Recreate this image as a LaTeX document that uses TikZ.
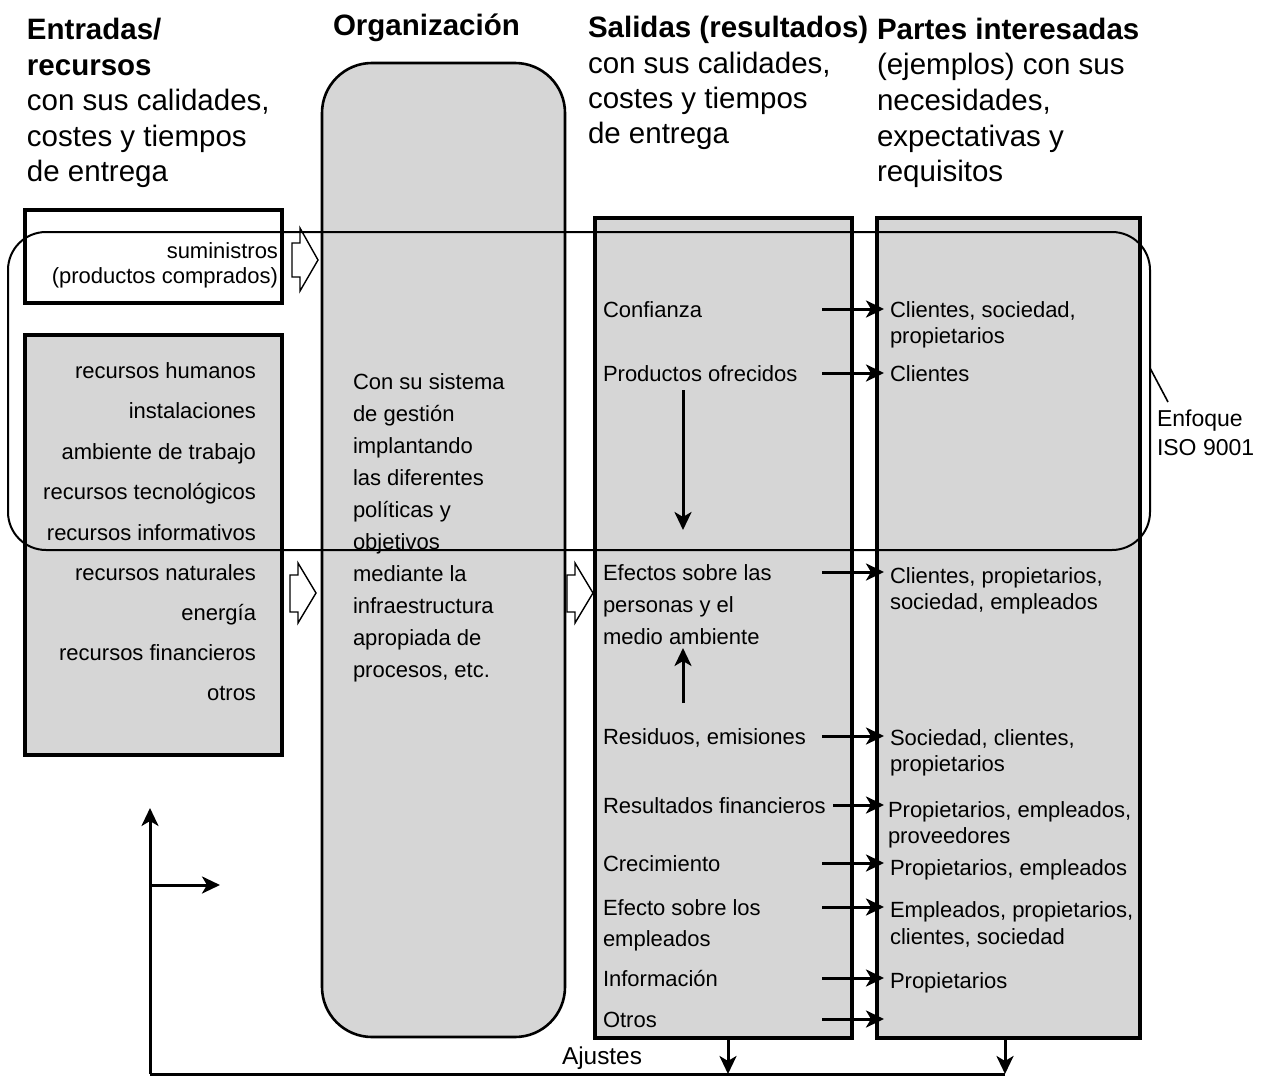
\documentclass[tikz,border=0pt]{standalone}
\usepackage{fontspec}
\setmainfont{Liberation Sans}
\usetikzlibrary{arrows.meta}
\definecolor{shade}{gray}{0.84}
\newcommand\bodysize{\fontsize{22}{26}\selectfont}
\newcommand\headsize{\fontsize{29.5}{35}\selectfont}

\begin{document}
\begin{tikzpicture}[x=1pt,y=-1pt,
  panel/.style={draw, line width=3.4pt, fill=shade, inner sep=0pt, outer sep=0pt},
  txt/.style={inner sep=0pt, outer sep=0pt, font=\bodysize, yshift=-6pt},
  hd/.style={inner sep=0pt, outer sep=0pt, font=\headsize, yshift=-7pt},
  flow/.style={line width=3pt, -{Stealth[length=18pt,width=17pt,inset=5pt]}},
  hollow/.style={draw, line width=1.4pt, fill=white, line join=miter},
]
\useasboundingbox (0,0) rectangle (1261,1076);

% ---- column headers
\node[hd, font=\headsize\bfseries, anchor=mid west] (h1a) at (27,30) {Entradas/};
\node[hd, font=\headsize\bfseries, anchor=mid west] (h1b) at (27,66) {recursos};
\node[hd, anchor=mid west] (h1c) at (27,101) {con sus calidades,};
\node[hd, anchor=mid west] (h1d) at (27,137) {costes y tiempos};
\node[hd, anchor=mid west] (h1e) at (27,172) {de entrega};

\node[hd, font=\headsize\bfseries, anchor=mid west] (h2) at (333,26) {Organización};

\node[hd, font=\headsize\bfseries, anchor=mid west] (h3a) at (588,28) {Salidas (resultados)};
\node[hd, anchor=mid west] (h3b) at (588,64) {con sus calidades,};
\node[hd, anchor=mid west] (h3c) at (588,99) {costes y tiempos};
\node[hd, anchor=mid west] (h3d) at (588,134) {de entrega};

\node[hd, font=\headsize\bfseries, anchor=mid west] (h4a) at (877,30) {Partes interesadas};
\node[hd, anchor=mid west] (h4b) at (877,65) {(ejemplos) con sus};
\node[hd, anchor=mid west] (h4c) at (877,101) {necesidades,};
\node[hd, anchor=mid west] (h4d) at (877,137) {expectativas y};
\node[hd, anchor=mid west] (h4e) at (877,172) {requisitos};

% ---- panels
\node[panel, fill=white, minimum width=257pt, minimum height=93pt] (supbox) at (153.5,256.5) {};
\node[panel, minimum width=257pt, minimum height=420pt] (resbox) at (153.5,545) {};
\node[panel, line width=2.6pt, rounded corners=50pt, minimum width=243pt, minimum height=974pt] (org) at (443.5,550) {};
\node[panel, minimum width=257pt, minimum height=820pt] (outbox) at (723.5,628) {};
\node[panel, minimum width=263pt, minimum height=820pt] (partbox) at (1008.5,628) {};

% ---- inputs
\node[txt, anchor=mid east] (sup1) at (278,250) {suministros};
\node[txt, anchor=mid east] (sup2) at (278,275) {(productos comprados)};
\foreach \t/\y [count=\i] in {recursos humanos/370, instalaciones/410,
    ambiente de trabajo/451, recursos tecnológicos/491, recursos informativos/532,
    recursos naturales/572, energía/612, recursos financieros/652, otros/692}
  \node[txt, anchor=mid east] (res\i) at (256,\y) {\t};

% ---- organization
\foreach \t [count=\i] in {Con su sistema, de gestión, implantando, las diferentes,
    políticas y, objetivos, mediante la, infraestructura, apropiada de, {procesos, etc.}}
  \node[txt, anchor=mid west] (org\i) at (353,{381+32*(\i-1)}) {\t};

% ---- outputs
\node[txt, anchor=mid west] (o1) at (603,309) {Confianza};
\node[txt, anchor=mid west] (o2) at (603,373) {Productos ofrecidos};
\node[txt, anchor=mid west] (o3) at (603,572) {Efectos sobre las};
\node[txt, anchor=mid west] (o3b) at (603,604) {personas y el};
\node[txt, anchor=mid west] (o3c) at (603,636) {medio ambiente};
\node[txt, anchor=mid west] (o4) at (603,736) {Residuos, emisiones};
\node[txt, anchor=mid west] (o5) at (603,805) {Resultados financieros};
\node[txt, anchor=mid west] (o6) at (603,863) {Crecimiento};
\node[txt, anchor=mid west] (o7) at (603,907) {Efecto sobre los};
\node[txt, anchor=mid west] (o7b) at (603,938) {empleados};
\node[txt, anchor=mid west] (o8) at (603,978) {Información};
\node[txt, anchor=mid west] (o9) at (603,1019) {Otros};

% ---- interested parties
\node[txt, anchor=mid west] (p1) at (890,309) {Clientes, sociedad,};
\node[txt, anchor=mid west] (p1b) at (890,335) {propietarios};
\node[txt, anchor=mid west] (p2) at (890,373) {Clientes};
\node[txt, anchor=mid west] (p3) at (890,575) {Clientes, propietarios,};
\node[txt, anchor=mid west] (p3b) at (890,601) {sociedad, empleados};
\node[txt, anchor=mid west] (p4) at (890,737) {Sociedad, clientes,};
\node[txt, anchor=mid west] (p4b) at (890,763) {propietarios};
\node[txt, anchor=mid west] (p5) at (888,809) {Propietarios, empleados,};
\node[txt, anchor=mid west] (p5b) at (888,835) {proveedores};
\node[txt, anchor=mid west] (p6) at (890,867) {Propietarios, empleados};
\node[txt, anchor=mid west] (p7) at (890,909) {Empleados, propietarios,};
\node[txt, anchor=mid west] (p7b) at (890,936) {clientes, sociedad};
\node[txt, anchor=mid west] (p8) at (890,980) {Propietarios};

% ---- hollow transfer arrows
\draw[hollow] (292,243) -- (300,243) -- (300,228) -- (318,260) -- (300,291) -- (300,277) -- (292,277) -- cycle;
\draw[hollow] (290,575) -- (298,575) -- (298,563) -- (316,593) -- (298,623) -- (298,612) -- (290,612) -- cycle;
\draw[hollow] (567,575) -- (575,575) -- (575,563) -- (593,593) -- (575,623) -- (575,612) -- (567,612) -- cycle;

% ---- outputs to interested parties
\foreach \o in {o1,o2,o3,o4,o6,o7,o8,o9}
  \draw[flow] ([xshift=-30pt,yshift=6pt]\o.mid -| outbox.east) -- ([xshift=7pt,yshift=6pt]\o.mid -| partbox.west);
\draw[flow] ([xshift=-19pt,yshift=6pt]o5.mid -| outbox.east) -- ([xshift=7pt,yshift=6pt]o5.mid -| partbox.west);

% ---- internal links between outputs
\coordinate (d1) at (683,390);
\coordinate (d2) at (683,530);
\coordinate (u1) at (683,703);
\coordinate (u2) at (683,648);
\draw[flow] (d1) -- (d2);
\draw[flow] (u1) -- (u2);

% ---- ISO 9001 scope
\node[draw, line width=2pt, rounded corners=38pt, inner sep=0pt, outer sep=0pt,
      minimum width=1142pt, minimum height=318pt] (iso) at (579,391) {};
\coordinate (lead) at (1168,402);
\draw[line width=1.6pt] ([yshift=23pt]iso.east) -- (lead);
\node[txt, font=\fontsize{23}{27}\selectfont, anchor=mid west] (enf1) at (1157,418) {Enfoque};
\node[txt, font=\fontsize{23}{27}\selectfont, anchor=mid west] (enf2) at (1157,447) {ISO 9001};

% ---- feedback loop
\coordinate (aj1) at (728,1074);
\coordinate (aj2) at (1005,1074);
\coordinate (aj0) at (150,1074);
\coordinate (up) at (150,808);
\coordinate (br) at (150,885);
\coordinate (brE) at (220,885);
\draw[flow] (aj1 |- outbox.south) -- (aj1);
\draw[flow] (aj2 |- partbox.south) -- (aj2);
\draw[line width=3pt] (aj2) -- (aj0);
\draw[flow] (aj0) -- (up);
\draw[flow] (br) -- (brE);
\node[txt, font=\fontsize{24.4}{28}\selectfont, anchor=mid west] (ajl) at (562,1056) {Ajustes};
\end{tikzpicture}
\end{document}
